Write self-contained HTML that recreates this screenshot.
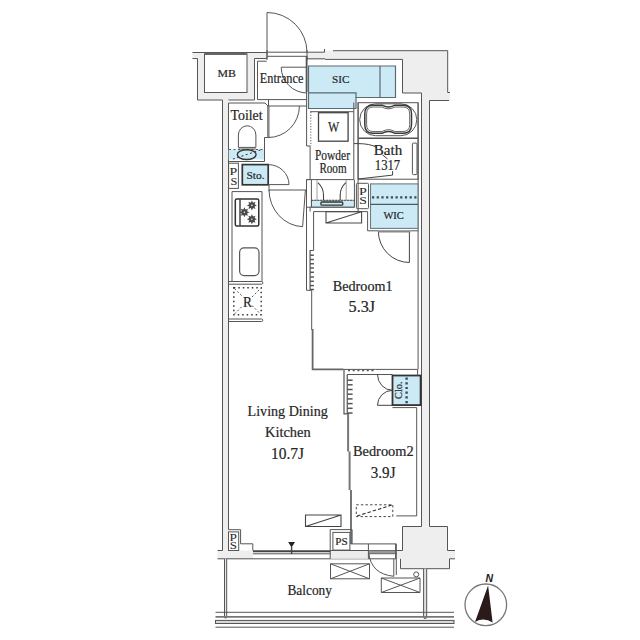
<!DOCTYPE html>
<html><head><meta charset="utf-8">
<style>
html,body{margin:0;padding:0;background:#fff;width:640px;height:640px;overflow:hidden}
svg{display:block}
text{font-family:"Liberation Serif",serif}
</style></head>
<body>
<svg width="640" height="640" viewBox="0 0 640 640">
<g fill="#eeeeee" stroke="none">
<path fill-rule="evenodd" d="M192.5,52.5 H267 V58.5 H254.5 V100 H197.5 V58.5 H192.5 Z M204.5,54 V92.5 H247 V54 Z"/>
<path d="M307,52.5 H324.5 V50.7 H447.7 V92.5 H450 V100.5 H429.5 V526.5 H421.5 V93 H402.5 V59.5 H307 Z"/>
<rect x="222.5" y="100" width="6" height="451"/>
<rect x="217.5" y="550.5" width="35.5" height="8.5"/>
<path d="M402.5,526.5 H447.5 V550.5 H455 V558.5 H449.5 V568.5 H400.5 V558.5 H396 V550.5 H402.5 Z"/>
</g>
<g fill="none" stroke="#555" stroke-width="1">
<path d="M192.5,52.5 H267"/>
<path d="M192.5,58.5 H197.5 V100 H222.5"/>
<path d="M254.5,58.5 V100 H228.5"/>
<path d="M254.5,58.5 H267 V52"/>
<rect x="204.5" y="53.8" width="42.5" height="38.7" fill="#fff"/>
<path d="M205,53.8 H246.5" stroke-width="2.2" stroke="#666"/>
<path d="M266.7,61.2 H257.5 V99.6 H306.5"/>
<path d="M267,52 V12.5 A40,40 0 0 1 307,52.5"/>
<path d="M267,52.2 H307 M267,56.3 H307 M267,50 V60 M307,50 V60"/>
<path d="M307,52.2 H324.5 V49 M333,50.7 H447.7 V92.5 H450"/>
<path d="M307,58.8 H325 M325,59.4 H402.5 V93 H421.5 V526.5 H402.5 V550.5 H396"/>
<path d="M429.5,100.5 H449 M429.5,100.5 V526.5 H447.5 V550.5 H455"/>
<path d="M306.6,56 V146 H310.1 V179.6 H306.5 V290.3 H311.7 V330" />
<path d="M312.6,329 V369.4 H343.5" stroke="#666" stroke-width="1.8"/>
<path d="M306.6,56 V92" stroke-width="1.8"/>
<path d="M281.2,67.2 H307 M281.2,67.2 A26,26 0 0 0 307,93"/>
<path d="M308.5,66 H395.5 V97.5 H356 V108.5 H308.5 Z" fill="#cce9f6" stroke="#5a6a72" stroke-width="1.2"/>
<path d="M308.5,92.8 H356 V97.5 M380,66 V97.5" stroke="#5a6a72" stroke-width="1.2"/>
<path d="M222.5,100 V550.5 H217.5"/>
<path d="M228.5,103 V529.7"/>
<path d="M217.5,558.8 H396 M400.5,558.8 V568.7 H449.5 V558.8 H455"/>
<rect x="228.7" y="149.5" width="35.8" height="10" fill="#cce9f6" stroke="none"/>
<path d="M228.5,103 H265 L268,106 M264.5,137.5 V161.5 H228.5 M264.5,137.5 H270"/>
<path d="M229,149.5 H264" stroke="#555" stroke-dasharray="2,2.5" stroke-width="1.1"/>
<path d="M238.4,147.4 V135 A8.75,9.2 0 0 1 255.9,135 V147.4 Z M238.4,149 H255.9" stroke="#555"/>
<ellipse cx="246.7" cy="154.6" rx="9.4" ry="4.9" stroke="#333" stroke-width="1.4"/>
<path d="M232.9,159.1 L261.7,149.5" stroke="#444" stroke-dasharray="2,2.5" stroke-width="1.1"/>
<path d="M268.3,106 V137.5" stroke="#888" stroke-width="2.6"/>
<path d="M268.5,99.6 V106"/>
<path d="M268.3,106 H306.5 M299.4,106 A31.1,31.5 0 0 1 268.3,137.5"/>
<rect x="228.6" y="163.2" width="9.8" height="25.2"/>
<rect x="242.3" y="164.6" width="25.9" height="20.2" fill="#cce9f6" stroke="#333" stroke-width="1.7"/>
<path d="M268.2,164.6 A20.8,20 0 0 1 289,184.6 H268.2"/>
<path d="M269,185 V191 M269,190 H306.5"/>
<path d="M232,191.6 H262 V281.5 M232,191.6 V281.5 M228.5,281.5 H261.5 A1.35,1.35 0 0 1 261.5,284.2 H228.5"/>
<rect x="235.3" y="198.9" width="23.45" height="27.1" rx="1.5" stroke="#333" stroke-width="1.5"/>
<path d="M240,199 V226" stroke="#444" stroke-width="1.5"/>
<path d="M251.90,200.40 L253.01,202.72 L255.44,201.86 L254.58,204.29 L256.90,205.40 L254.58,206.51 L255.44,208.94 L253.01,208.08 L251.90,210.40 L250.79,208.08 L248.36,208.94 L249.22,206.51 L246.90,205.40 L249.22,204.29 L248.36,201.86 L250.79,202.72 Z" fill="#4a4a4a" stroke="none"/>
<circle cx="251.9" cy="205.4" r="0.8" fill="#eee" stroke="none"/>
<path d="M244.40,207.30 L245.51,209.62 L247.94,208.76 L247.08,211.19 L249.40,212.30 L247.08,213.41 L247.94,215.84 L245.51,214.98 L244.40,217.30 L243.29,214.98 L240.86,215.84 L241.72,213.41 L239.40,212.30 L241.72,211.19 L240.86,208.76 L243.29,209.62 Z" fill="#4a4a4a" stroke="none"/>
<circle cx="244.4" cy="212.3" r="0.8" fill="#eee" stroke="none"/>
<path d="M251.90,214.20 L253.01,216.52 L255.44,215.66 L254.58,218.09 L256.90,219.20 L254.58,220.31 L255.44,222.74 L253.01,221.88 L251.90,224.20 L250.79,221.88 L248.36,222.74 L249.22,220.31 L246.90,219.20 L249.22,218.09 L248.36,215.66 L250.79,216.52 Z" fill="#4a4a4a" stroke="none"/>
<circle cx="251.9" cy="219.2" r="0.8" fill="#eee" stroke="none"/>
<rect x="239.6" y="247.9" width="19.4" height="27.7" rx="4.5" stroke="#555" stroke-width="1.2"/>
<rect x="233.8" y="287.7" width="27.4" height="27.1" stroke="#333" stroke-width="1.5" stroke-dasharray="1.5,3"/>
<path d="M234.5,288.5 L243,297 M252,297 L260.5,288.5 M234.5,314 L243,305.5 M252,305.5 L260.5,314" stroke="#555" stroke-dasharray="2,2" stroke-width="1"/>
<path d="M228.5,319 H261.5 A1.25,1.25 0 0 1 261.5,321.5 H228.5"/>
<path d="M305.4,190 L302.6,226.7 A35,37 0 0 1 269,190"/>
<path d="M310.1,111.7 H353.8 V179.6 H310.1"/>
<path d="M353.8,111.7 V102.5 M358.1,102.5 V211.5"/>
<path d="M310.8,112 V146" stroke="#777" stroke-dasharray="1.2,1.6" stroke-width="1.2"/>
<rect x="318.5" y="112.7" width="29.6" height="28.5" stroke="#444" stroke-width="1.3"/>
<rect x="311.4" y="200.3" width="43" height="6.9" fill="#cce9f6" stroke="#777" stroke-width="0.8"/>
<path d="M311.4,179.7 V207.2 M354.4,179.7 V207.2"/>
<path d="M311.4,200.3 H354.4" stroke="#444" stroke-dasharray="1.5,1.5" stroke-width="1.1"/>
<rect x="320.9" y="202" width="21.9" height="3.2" rx="1" stroke="#333" stroke-width="1.3"/>
<path d="M317,180 V200 M346.2,180 V200" stroke="#888" stroke-width="0.8"/>
<path d="M317.9,182.7 Q323.5,188 323.5,195 V200 M345.8,182.7 Q340.2,188 340.2,195 V200" stroke="#444" stroke-width="1.1"/>
<path d="M306.5,179.6 H310.1 M306.5,207.2 H354.4 M310.1,207.2 V211.5"/>
<rect x="358.1" y="102.7" width="60" height="76.5"/>
<rect x="359.7" y="103.8" width="57.1" height="31.9" rx="15.9"/>
<path d="M373,105.2 H382 Q385,106.8 388,107 H389 Q392,106.8 395,105.2 H403 Q411.5,105.2 411.5,114 V124.5 Q411.5,133.3 403,133.3 H395 Q392,131.7 389,131.5 H388 Q385,131.7 382,133.3 H373 Q364.8,133.3 364.8,124.5 V114 Q364.8,105.2 373,105.2 Z" stroke="#3a3a3a" stroke-width="1.5"/>
<path d="M373,107 H382 Q385,108.6 388,108.8 H389 Q392,108.6 395,107 H403 Q409.7,107 409.7,114 V124.5 Q409.7,131.5 403,131.5 H395 Q392,129.9 389,129.7 H388 Q385,129.9 382,131.5 H373 Q366.6,131.5 366.6,124.5 V114 Q366.6,107 373,107 Z" stroke="#555" stroke-width="0.9"/>
<path d="M358.1,138.2 H418.1" stroke-width="1.4"/>
<rect x="412.4" y="143.1" width="4.6" height="31.5" rx="1"/>
<path d="M354,143.6 H358.1 Q370,143.6 377,147.5 M382.4,154.8 L387.5,158.9 M392.6,171 V175.1 L358.1,179" stroke="#444"/>
<path d="M418.1,102.7 V369.4" />
<rect x="356.4" y="183.3" width="12.1" height="25.4" rx="1"/>
<rect x="370.5" y="183.9" width="47.5" height="44.5" fill="#cce9f6" stroke="#6d7a80" stroke-width="1.1"/>
<path d="M372,197.3 H418" stroke="#3a4a52" stroke-dasharray="2.2,2.5" stroke-width="2.3"/>
<path d="M370.5,204.4 H418" stroke="#4a5a62" stroke-width="1.2"/>
<path d="M378.3,231 A31.1,31.5 0 0 0 409.4,262.5 V231" stroke="#444"/>
<path d="M378.1,231.3 H410.4" stroke="#888" stroke-width="2.2"/>
<path d="M313.6,250.5 V211.6 H367.6 V230.8 H378.1 M410.4,230.8 H418.1"/>
<path d="M326,211.8 H361.6 V223 H326 Z M326,223 L361.6,211.8" stroke="#4a4a4a" stroke-width="1.1"/>
<path d="M313.6,250.5 H310.1 V290.3" stroke-width="1.2"/>
<path d="M310.1,255.2 H313.9" stroke="#555" stroke-width="1.5"/>
<path d="M310.1,259.5 H313.9" stroke="#555" stroke-width="1.5"/>
<path d="M310.1,263.75 H313.9" stroke="#555" stroke-width="1.5"/>
<path d="M310.1,268 H313.9" stroke="#555" stroke-width="1.5"/>
<path d="M310.1,272.3 H313.9" stroke="#555" stroke-width="1.5"/>
<path d="M310.1,277 H313.9" stroke="#555" stroke-width="1.5"/>
<path d="M310.1,281.3 H313.9" stroke="#555" stroke-width="1.5"/>
<path d="M310.1,285.6 H313.9" stroke="#555" stroke-width="1.5"/>
<path d="M310.1,289.5 H313.9" stroke="#555" stroke-width="1.5"/>
<path d="M375.4,369.4 H417.6"/>
<path d="M343.5,369.4 H375.4" stroke="#555"/>
<path d="M348,370.6 H375" stroke="#555" stroke-dasharray="2,2.7" stroke-width="1.5"/>
<path d="M344,369.4 V413.9 H349.1" stroke-width="1.2"/>
<path d="M347.25,374.5 V413.9 M347.25,374.5 H392.5" stroke-width="1.2"/>
<path d="M347.25,380.2 H352.6" stroke="#555" stroke-width="1.5"/>
<path d="M347.25,384.8 H352.6" stroke="#555" stroke-width="1.5"/>
<path d="M347.25,389.5 H352.6" stroke="#555" stroke-width="1.5"/>
<path d="M347.25,394.2 H352.6" stroke="#555" stroke-width="1.5"/>
<path d="M347.25,398.9 H352.6" stroke="#555" stroke-width="1.5"/>
<path d="M347.25,403.6 H352.6" stroke="#555" stroke-width="1.5"/>
<path d="M347.25,408.3 H352.6" stroke="#555" stroke-width="1.5"/>
<path d="M347.25,413.0 H352.6" stroke="#555" stroke-width="1.5"/>
<path d="M348.1,413.9 V451.6 M349.6,451.6 V489.9 M351,489.9 V543.9" stroke="#777" stroke-width="2"/>
<path d="M351,543.9 H396.3 V575"/>
<rect x="392.5" y="375.5" width="28.1" height="29.6" fill="#cce9f6" stroke="#333" stroke-width="1.8"/>
<path d="M406.6,377.5 V404" stroke="#3a4a52" stroke-dasharray="2.2,2.5" stroke-width="2.4"/>
<path d="M377.5,374.5 A15.2,15.8 0 0 0 392.5,390.3 A15.2,15 0 0 0 377.5,405.3 H392.5" stroke="#444"/>
<path d="M392.5,407.6 H416.7 V515.9 H396.3 M417.6,369.4 V375.5"/>
<path d="M356.3,504.8 H392.8 V516.6 H356.3 Z" stroke="#444" stroke-dasharray="2.4,2.2" stroke-width="1"/>
<path d="M357,516 L392,505" stroke="#333" stroke-dasharray="3.5,2" stroke-width="1.1"/>
<path d="M305.5,515 H341 V526.5 H305.5 Z M305.5,526.5 L341,515" stroke="#444" stroke-width="1.1"/>
<path d="M228.5,529.7 H240.6 V543.8 H252.8 V550.5"/>
<rect x="228.5" y="531.9" width="10.2" height="18.6"/>
<path d="M330.2,550.5 V529.6 H352.1 V543.9"/>
<rect x="332.9" y="532.4" width="17" height="17.7"/>
<rect x="330.2" y="550.5" width="38.2" height="8.3" fill="#ececec" stroke="none"/>
<path d="M330.2,550.5 H368.4 M330.2,550.5 V558.8"/>
<path d="M253,551.2 H330.2" stroke="#444" stroke-width="2"/>
<path d="M253,553.8 H330.2"/>
<path d="M368.4,543.9 V558.8 M395.6,543.9 V558.8"/>
<rect x="368.4" y="550.6" width="27.2" height="3.2" fill="#999" stroke="#555" stroke-width="0.8"/>
<path d="M288.1,541.9 H295 L291.6,547.5 Z" fill="#222" stroke="none"/>
<path d="M291.6,547 V554" stroke-width="1.4" stroke="#444"/>
<path d="M224.5,558.8 V617 A1.1,1.1 0 0 0 226.7,617 V558.8" fill="#e8e8e8"/>
<path d="M423.6,568.7 V617 A1.5,1.5 0 0 0 426.7,617 V568.7" fill="#e0e0e0"/>
<rect x="215.5" y="620.4" width="238.5" height="3.1" fill="#d8d8d8" stroke="#555"/>
<path d="M215.5,612.3 H454 M215.5,627.2 H454"/>
<path d="M215.5,616.9 H454" stroke="#777" stroke-width="1.8"/>
<path d="M368.8,553 Q371,574 393.8,576.3 M393.8,558.8 V576.3"/>
<path d="M330.5,563.8 H369.5 V578.8 H330.5 Z M330.5,563.8 L369.5,578.8 M369.5,563.8 L330.5,578.8"/>
<path d="M381.3,578 H420 V592.5 H381.3 Z M381.3,578 L420,592.5 M420,578 L381.3,592.5"/>
<circle cx="416.2" cy="574.4" r="2.5"/>
</g>
<g fill="#262626" stroke="#262626" stroke-width="0.2">
<text x="217.6" y="77.2" font-size="10.6" textLength="18.4" lengthAdjust="spacingAndGlyphs">MB</text>
<text x="259.8" y="83.22" font-size="14" textLength="43.6" lengthAdjust="spacingAndGlyphs">Entrance</text>
<text x="332.0" y="82.75" font-size="10.6" textLength="17.4" lengthAdjust="spacingAndGlyphs">SIC</text>
<text x="230.5" y="120.4" font-size="14.5" textLength="32.1" lengthAdjust="spacingAndGlyphs">Toilet</text>
<text x="328.0" y="132.05" font-size="14.5" textLength="11.2" lengthAdjust="spacingAndGlyphs">W</text>
<text x="315.0" y="159.5" font-size="14" textLength="35.0" lengthAdjust="spacingAndGlyphs">Powder</text>
<text x="319.4" y="172.9" font-size="14" textLength="27.2" lengthAdjust="spacingAndGlyphs">Room</text>
<text x="373.8" y="154.8" font-size="14" textLength="28.4" lengthAdjust="spacingAndGlyphs">Bath</text>
<text x="374.8" y="170.0" font-size="14" textLength="25.4" lengthAdjust="spacingAndGlyphs">1317</text>
<text x="229.5" y="175.45" font-size="9.5" textLength="7.7" lengthAdjust="spacingAndGlyphs" stroke-width="0.05">P</text>
<text x="230.4" y="184.75" font-size="9.5" textLength="6.8" lengthAdjust="spacingAndGlyphs" stroke-width="0.05">S</text>
<text x="359.0" y="194.9" font-size="9.5" textLength="7.8" lengthAdjust="spacingAndGlyphs" stroke-width="0.05">P</text>
<text x="359.2" y="203.9" font-size="9.5" textLength="7.6" lengthAdjust="spacingAndGlyphs" stroke-width="0.05">S</text>
<text x="246.4" y="178.85" font-size="11.2" textLength="18.2" lengthAdjust="spacingAndGlyphs">Sto.</text>
<text x="383.4" y="218.9" font-size="10" textLength="20.4" lengthAdjust="spacingAndGlyphs">WIC</text>
<text x="243.0" y="306.65" font-size="14" textLength="9.0" lengthAdjust="spacingAndGlyphs">R</text>
<text x="332.8" y="291.3" font-size="14" textLength="59.8" lengthAdjust="spacingAndGlyphs">Bedroom1</text>
<text x="348.6" y="311.75" font-size="17.0" textLength="26.6" lengthAdjust="spacingAndGlyphs">5.3J</text>
<text x="247.6" y="415.8" font-size="14.2" textLength="80.2" lengthAdjust="spacingAndGlyphs">Living Dining</text>
<text x="265.0" y="437.37" font-size="14.2" textLength="45.6" lengthAdjust="spacingAndGlyphs">Kitchen</text>
<text x="271.0" y="458.5" font-size="17.0" textLength="33.0" lengthAdjust="spacingAndGlyphs">10.7J</text>
<text x="353.0" y="456.23" font-size="14" textLength="60.6" lengthAdjust="spacingAndGlyphs">Bedroom2</text>
<text x="370.8" y="477.5" font-size="17.0" textLength="24.7" lengthAdjust="spacingAndGlyphs">3.9J</text>
<text x="287.4" y="594.75" font-size="14.2" textLength="44.6" lengthAdjust="spacingAndGlyphs">Balcony</text>
<text x="335.2" y="545.0" font-size="10.6" textLength="12.4" lengthAdjust="spacingAndGlyphs">PS</text>
<text x="229.6" y="541.25" font-size="9.5" textLength="7.4" lengthAdjust="spacingAndGlyphs" stroke-width="0.05">P</text>
<text x="229.8" y="549.25" font-size="9.5" textLength="7.2" lengthAdjust="spacingAndGlyphs" stroke-width="0.05">S</text>
<text transform="translate(402.4,399) rotate(-90)" font-size="11.3" textLength="17.6" lengthAdjust="spacingAndGlyphs">Clo.</text>
</g>
<circle cx="485.8" cy="604.8" r="20.8" fill="none" stroke="#777" stroke-width="1.3"/>
<path d="M488.1,585.6 L492.6,622.5 Q484,617 475,621.9 Z" fill="#2a1a1a"/>
<text x="489.3" y="582.3" font-size="10.5" font-weight="bold" font-style="italic" text-anchor="middle" style="font-family:'Liberation Sans',sans-serif" fill="#222">N</text>
</svg>
</body></html>
